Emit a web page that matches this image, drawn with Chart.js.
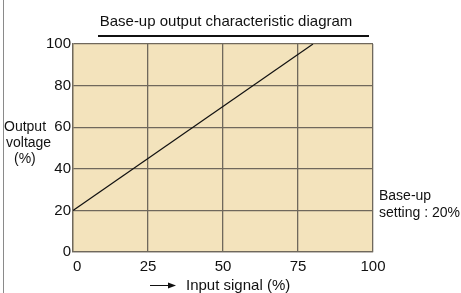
<!DOCTYPE html>
<html>
  <head>
    <title>Base-up output characteristic diagram</title>
    <script src="https://cdn.jsdelivr.net/npm/chart.js"></script>
    <style>
      body { margin: 0; background: #fff; }
      #wrap { width: 461px; height: 293px; }
    </style>
  </head>
  <body>
    <div id="wrap"><canvas id="baseUpChart" width="461" height="293"></canvas></div>

    <script>
      // values
      const inputSignal = [0, 80];
      const outputVoltage = [20, 100];
      const xTicks = [0, 25, 50, 75, 100];
      const yTicks = [0, 20, 40, 60, 80, 100];

      const FONT = "'Liberation Sans', Arial, sans-serif";
      const gridColor = "#6f685c";

      // panel fill, frame line at left edge, title and side notes
      const decor = {
        id: "decor",
        beforeDraw(chart) {
          const { ctx, chartArea: a } = chart;
          ctx.save();
          ctx.fillStyle = "#f3e3bc";
          ctx.fillRect(a.left, a.top, a.right - a.left, a.bottom - a.top);
          ctx.restore();
        },
        afterDraw(chart) {
          const ctx = chart.ctx;
          ctx.save();
          ctx.strokeStyle = "#8a8a8a";
          ctx.lineWidth = 1;
          ctx.beginPath();
          ctx.moveTo(3.5, 0);
          ctx.lineTo(3.5, 293);
          ctx.stroke();

          ctx.fillStyle = "#111";
          ctx.font = "15px " + FONT;
          ctx.textBaseline = "middle";
          ctx.textAlign = "center";
          ctx.fillText("Base-up output characteristic diagram", 226, 22);
          ctx.fillRect(98, 35, 271, 2);

          ctx.font = "14px " + FONT;
          ctx.textAlign = "left";
          ctx.fillText("Output", 4, 127);
          ctx.fillText("voltage", 6, 143);
          ctx.fillText("(%)", 14, 159);

          ctx.fillText("Base-up", 379, 196);
          ctx.fillText("setting : 20%", 379, 213);

          ctx.font = "15px " + FONT;
          ctx.fillText("Input signal (%)", 186, 286);
          ctx.strokeStyle = "#111";
          ctx.beginPath();
          ctx.moveTo(150, 285.5);
          ctx.lineTo(170, 285.5);
          ctx.stroke();
          ctx.beginPath();
          ctx.moveTo(176, 285.5);
          ctx.lineTo(168, 282.5);
          ctx.lineTo(168, 288.5);
          ctx.closePath();
          ctx.fill();
          ctx.restore();
        },
      };

      new Chart(document.getElementById("baseUpChart"), {
        type: "scatter",
        data: {
          datasets: [
            {
              data: inputSignal.map((x, i) => ({ x: x, y: outputVoltage[i] })),
              showLine: true,
              borderColor: "#111",
              borderWidth: 1.2,
              pointRadius: 0,
            },
          ],
        },
        options: {
          responsive: false,
          animation: false,
          layout: { padding: { left: 0, top: 44, right: 88, bottom: 0 } },
          plugins: { legend: { display: false }, tooltip: { enabled: false } },
          scales: {
            x: {
              type: "linear",
              min: 0,
              max: 100,
              afterBuildTicks: (s) => { s.ticks = xTicks.map((v) => ({ value: v })); },
              afterFit: (s) => { s.height = 41; },
              grid: { color: gridColor, lineWidth: 1.3, drawTicks: false },
              border: { color: gridColor, width: 1.3 },
              ticks: {
                padding: 6,
                color: "#111",
                font: { family: FONT, size: 15 },
                callback: (v) => (v === 0 ? "  0" : v),
              },
            },
            y: {
              type: "linear",
              min: 0,
              max: 100,
              afterBuildTicks: (s) => { s.ticks = yTicks.map((v) => ({ value: v })); },
              afterFit: (s) => { s.width = 73; },
              grid: { color: gridColor, lineWidth: 1.3, drawTicks: false },
              border: { color: gridColor, width: 1.3 },
              ticks: {
                padding: 2,
                color: "#111",
                font: { family: FONT, size: 15 },
              },
            },
          },
        },
        plugins: [decor],
      });
    </script>
  </body>
</html>
